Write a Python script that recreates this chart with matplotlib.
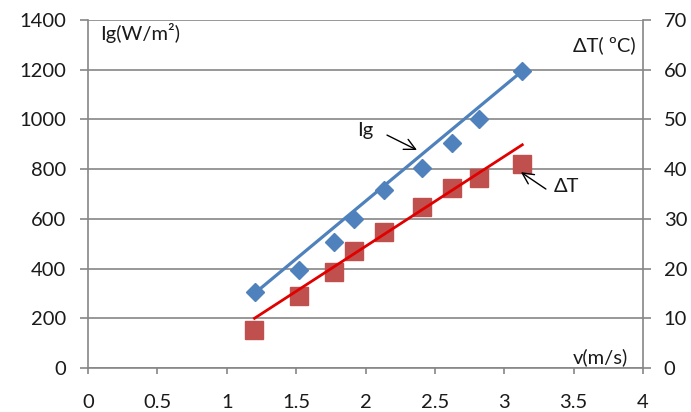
import matplotlib
matplotlib.use("Agg")
import matplotlib.pyplot as plt

plt.rcParams['font.family'] = ['Lato', 'DejaVu Sans']

# measured data
v = [1.2, 1.52, 1.77, 1.92, 2.13, 2.41, 2.62, 2.82, 3.13]          # m/s
ig = [305, 395, 507, 600, 716, 803, 905, 1000, 1195]               # W/m2
dT = [7.6, 14.5, 19.4, 23.5, 27.4, 32.3, 36.3, 38.3, 41.0]         # degC

# hand-fitted trend lines (end points)
trend_v = [1.2, 3.13]
trend_ig = [300, 1195]
trend_dT = [10.0, 44.9]

x_ticks = [0, 0.5, 1, 1.5, 2, 2.5, 3, 3.5, 4]
x_ticklabels = ['0', '0.5', '1', '1.5', '2', '2.5', '3', '3.5', '4']
ig_ticks = [0, 200, 400, 600, 800, 1000, 1200, 1400]
dT_ticks = [0, 10, 20, 30, 40, 50, 60, 70]

W, H = 691, 412
fig = plt.figure(figsize=(W / 100, H / 100), dpi=100)
ax = fig.add_axes([88 / W, 1 - 368 / H, (643 - 88) / W, (368 - 20) / H])
ax2 = ax.twinx()

grid_c = '#868686'
txt_c = '#1a1a1a'
blue = '#4f81bd'
red_m = '#c0504d'
red_l = '#e00000'

ax.set_xlim(0, 4)
ax.set_ylim(0, 1400)
ax2.set_ylim(0, 70)
ax.set_xticks(x_ticks)
ax.set_xticklabels(x_ticklabels)
ax.set_yticks(ig_ticks)
ax2.set_yticks(dT_ticks)

for a in (ax, ax2):
    for s in a.spines.values():
        s.set_color(grid_c)
        s.set_linewidth(1.2)
    a.spines['top'].set_visible(False)
    a.tick_params(colors=grid_c, labelcolor=txt_c, labelsize=14.5, width=1.2)
ax2.spines['left'].set_visible(False)
ax.spines['right'].set_visible(False)
ax2.spines['bottom'].set_visible(False)

ax.tick_params(axis='x', length=4, pad=15)
ax.tick_params(axis='y', length=6, pad=10)
ax2.tick_params(axis='y', length=6, pad=9)

ax.grid(axis='y', color=grid_c, linewidth=1.2)
ax.set_axisbelow(True)
ax.patch.set_visible(True)
ax2.patch.set_visible(False)

# Ig series on the primary axis
ax.plot(v, ig, linestyle='none', marker='D', markersize=9, color=blue, zorder=3)
ax.plot(trend_v, trend_ig, color=blue, linewidth=2.3, zorder=4)

# dT series on the secondary axis
ax2.plot(v, dT, linestyle='none', marker='s', markersize=12.5, color=red_m, zorder=3)
ax2.plot(trend_v, trend_dT, color=red_l, linewidth=2.0, zorder=4)

# axis titles placed inside the plot area
fig.text(100 / W, 1 - 33 / H, 'Ig(W/m²)', fontsize=14.5, color=txt_c, va='center', ha='left')
fig.text(636 / W, 1 - 45 / H, 'ΔT( ºC)', fontsize=14.5, color=txt_c, va='center', ha='right')
fig.text(628 / W, 1 - 357 / H, 'v(m/s)', fontsize=14.5, color=txt_c, va='center', ha='right')

# series labels with pointer arrows
ax.text(1.996, 957, 'Ig', fontsize=14.5, color=txt_c, va='center', ha='center')
ax.annotate('', xy=(2.371, 877), xytext=(2.155, 937),
            arrowprops=dict(arrowstyle='->', color='black', lw=1.0,
                            mutation_scale=20, shrinkA=0, shrinkB=0))
ax2.text(3.445, 36.6, 'ΔT', fontsize=14.5, color=txt_c, va='center', ha='center')
ax2.annotate('', xy=(3.12, 39.4), xytext=(3.30, 36.0),
             arrowprops=dict(arrowstyle='->', color='black', lw=1.0,
                             mutation_scale=20, shrinkA=0, shrinkB=0))

fig.savefig('out.png', dpi=100)
